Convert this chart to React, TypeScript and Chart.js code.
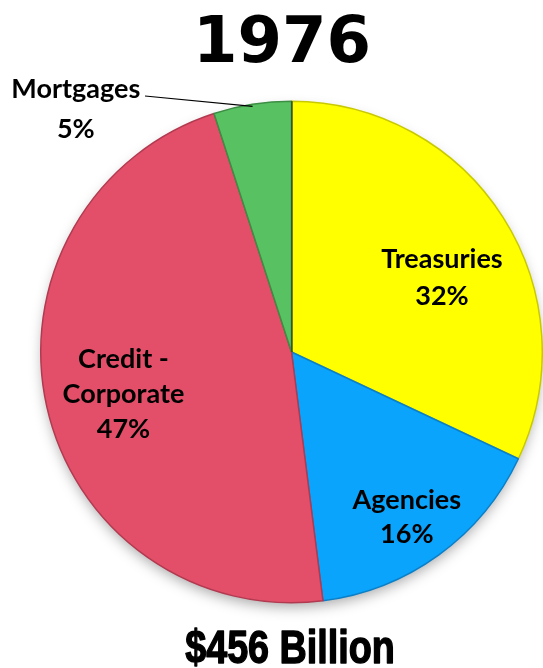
import React, { useEffect, useRef } from "react";
import { Chart, registerables } from "chart.js";

Chart.register(...registerables);

const titleText = "1976";
const totalText = "$456 Billion";
const categories = ["Treasuries", "Agencies", "Credit - Corporate", "Mortgages"];
const labelLines = [["Treasuries"], ["Agencies"], ["Credit -", "Corporate"], ["Mortgages"]];
const shares = [32, 16, 47, 5];
const colors = ["#FFFF00", "#0AA4FC", "#E34F69", "#58C262"];
const borders = ["#C9C900", "#0A7FC8", "#B23A50", "#3C8E44"];

export default function App() {
  const ref = useRef<HTMLCanvasElement | null>(null);

  useEffect(() => {
    document.body.style.margin = "0";
    const canvas = ref.current;
    if (!canvas) return;

    const textPlugin = {
      id: "textPlugin",
      beforeDatasetsDraw(chart: any) {
        const meta = chart.getDatasetMeta(0);
        const arc = meta.data[0];
        if (!arc) return;
        const { x, y, outerRadius } = arc.getProps(["x", "y", "outerRadius"], true);
        const ctx = chart.ctx;
        ctx.save();
        ctx.shadowColor = "rgba(0,0,0,0.35)";
        ctx.shadowBlur = 14;
        ctx.shadowOffsetY = 6;
        ctx.fillStyle = "#ffffff";
        ctx.beginPath();
        ctx.arc(x, y, outerRadius - 2, 0, Math.PI * 2);
        ctx.fill();
        ctx.restore();
      },
      afterDraw(chart: any) {
        const ctx = chart.ctx;
        const meta = chart.getDatasetMeta(0);
        const arc0 = meta.data[0];
        const { x: cx, y: cy, outerRadius: R } = arc0.getProps(["x", "y", "outerRadius"], true);
        ctx.save();
        ctx.strokeStyle = "#222";
        ctx.lineWidth = 1;
        ctx.beginPath();
        ctx.moveTo(cx + 0.5, cy);
        ctx.lineTo(cx + 0.5, cy - R);
        ctx.stroke();

        ctx.fillStyle = "#000";
        ctx.textAlign = "center";
        ctx.textBaseline = "alphabetic";
        ctx.font = "bold 64px 'DejaVu Sans'";
        ctx.fillText(titleText, 282, 62);

        ctx.save();
        ctx.scale(0.82, 1);
        ctx.font = "bold 46px 'Liberation Sans'";
        ctx.strokeStyle = "#000";
        ctx.lineWidth = 1.4;
        ctx.lineJoin = "round";
        ctx.fillText(totalText, 290 / 0.82, 663);
        ctx.strokeText(totalText, 290 / 0.82, 663);
        ctx.restore();

        const pos = [
          [0.6, -0.295],
          [0.46, 0.66],
          [-0.67, 0.17],
          [-0.86, -0.968],
        ];
        const lhs = [37, 34, 35, 40];
        ctx.font = "bold 27px Lato";
        ctx.textBaseline = "middle";
        for (let i = 0; i < categories.length; i++) {
          const lines = [...labelLines[i], shares[i] + "%"];
          const lh = lhs[i];
          const x = cx + pos[i][0] * R;
          const y0 = cy + pos[i][1] * R;
          const start = y0 - ((lines.length - 1) * lh) / 2;
          lines.forEach((t, k) => ctx.fillText(t, x, start + k * lh));
        }
        const a = meta.data[3];
        const props = a.getProps(["startAngle", "endAngle"], true);
        const mid = (props.startAngle + props.endAngle) / 2;
        const ex = cx + Math.cos(mid) * (R - 2);
        const ey = cy + Math.sin(mid) * (R - 2);
        ctx.strokeStyle = "#000";
        ctx.lineWidth = 1.2;
        ctx.beginPath();
        ctx.moveTo(145, 96);
        ctx.lineTo(ex, ey);
        ctx.stroke();
        ctx.restore();
      },
    };

    const chart = new Chart(canvas, {
      type: "pie",
      data: {
        labels: categories,
        datasets: [
          {
            data: shares,
            backgroundColor: colors,
            borderColor: borders,
            borderWidth: 1.5,
          },
        ],
      },
      options: {
        animation: false,
        responsive: false,
        maintainAspectRatio: false,
        events: [],
        layout: { padding: { left: 40, right: 0, top: 100, bottom: 64 } },
        plugins: {
          legend: { display: false },
          tooltip: { enabled: false },
          title: { display: false },
        },
      },
      plugins: [textPlugin],
    });
    return () => chart.destroy();
  }, []);

  return (
    <div style={{ width: 543, height: 668, background: "#fff" }}>
      <canvas ref={ref} width={543} height={668} style={{ display: "block" }} />
    </div>
  );
}
